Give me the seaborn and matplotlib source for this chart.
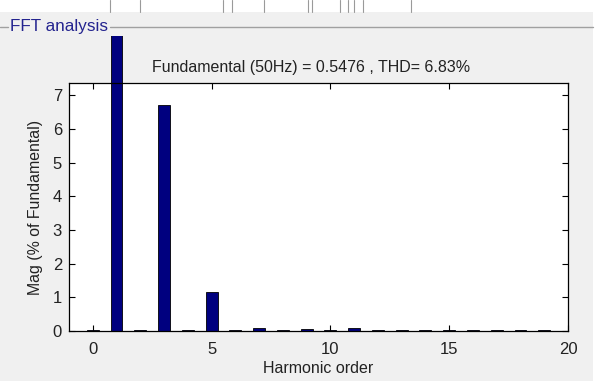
import numpy as np
import pandas as pd
import seaborn as sns
import matplotlib
matplotlib.use("Agg")
import matplotlib.pyplot as plt
from matplotlib.transforms import Bbox, TransformedBbox
from matplotlib.patches import Rectangle
from matplotlib.lines import Line2D

# Data (harmonic magnitudes in % of fundamental)
harmonic_order = list(range(0, 20))
magnitude = [0.03, 100.0, 0.03, 6.72, 0.03, 1.17, 0.03, 0.10, 0.03, 0.07,
             0.03, 0.08, 0.03, 0.03, 0.03, 0.03, 0.03, 0.03, 0.03, 0.03]
x_ticks = [0, 5, 10, 15, 20]
y_ticks = [0, 1, 2, 3, 4, 5, 6, 7]
title_text = "Fundamental (50Hz) = 0.5476 , THD= 6.83%"
panel_title = "FFT analysis"

df = pd.DataFrame({"order": harmonic_order, "mag": magnitude})

sns.set_theme(style="white")
plt.rcParams["font.family"] = ["Liberation Sans", "DejaVu Sans"]

W, H = 613, 381
fig = plt.figure(figsize=(W / 100, H / 100), dpi=100)
fig.patch.set_facecolor("#f0f0f0")

# top white strip (screenshot UI)
fig.patches.append(Rectangle((0, 1 - 12 / H), 1, 12 / H, transform=fig.transFigure,
                             facecolor="white", edgecolor="none", zorder=0))
for px in [110, 140, 223, 232, 264, 308, 312, 340, 348, 354, 363, 411]:
    fig.add_artist(Line2D([px / W, px / W], [1 - 12 / H, 1], transform=fig.transFigure,
                          color="#9a9a9a", lw=0.8))
# right white strip
fig.patches.append(Rectangle((593 / W, 0), 1 - 593 / W, 1 - 12 / H, transform=fig.transFigure,
                             facecolor="white", edgecolor="none", zorder=0))

# panel frame line and title
py = 1 - 27 / H
fig.add_artist(Line2D([0, 8 / W], [py, py], transform=fig.transFigure, color="#a0a0a0", lw=1))
fig.add_artist(Line2D([110 / W, 593 / W], [py, py], transform=fig.transFigure, color="#a0a0a0", lw=1))
fig.text(10 / W, py, panel_title, color="#24248f", fontsize=12.3, va="center", ha="left")

left, right, bottom, top = 69 / W, 568 / W, 1 - 331 / H, 1 - 83 / H
ax = fig.add_axes([left, bottom, right - left, top - bottom])
ax.set_facecolor("white")

sns.barplot(data=df, x="order", y="mag", native_scale=True, width=0.5,
            color="#00007f", edgecolor="black", linewidth=0.6, saturation=1,
            errorbar=None, ax=ax)

ax.set_xlim(-1, 20)
ax.set_ylim(0, 7.36)
ax.set_xticks(x_ticks)
ax.set_yticks(y_ticks)
ax.set_xticklabels([str(t) for t in x_ticks])
ax.set_yticklabels([str(t) for t in y_ticks])
ax.tick_params(direction="in", length=4, width=0.8, color="black",
               top=True, right=True, bottom=True, left=True,
               labelsize=12, labelcolor="#222222")
ax.tick_params(axis="x", pad=8)
ax.tick_params(axis="y", pad=5)
for s in ax.spines.values():
    s.set_visible(True)
    s.set_color("black")
    s.set_linewidth(0.9)

ax.set_xlabel("Harmonic order", fontsize=11.5, color="#222222", labelpad=3)
ax.set_ylabel("Mag (% of Fundamental)", fontsize=11.4, color="#222222", labelpad=7)
ax.set_title(title_text, fontsize=11.5, color="#222222", pad=8, x=0.486)

# let tall bars extend above the axes up to the panel interior
clip = TransformedBbox(Bbox([[0, 0], [1, 1 - 36 / H]]), fig.transFigure)
for p in ax.patches:
    p.set_clip_on(True)
    p.set_clip_path(None)
    p.set_clip_box(clip)

fig.savefig("out.png", dpi=100, facecolor=fig.get_facecolor())
